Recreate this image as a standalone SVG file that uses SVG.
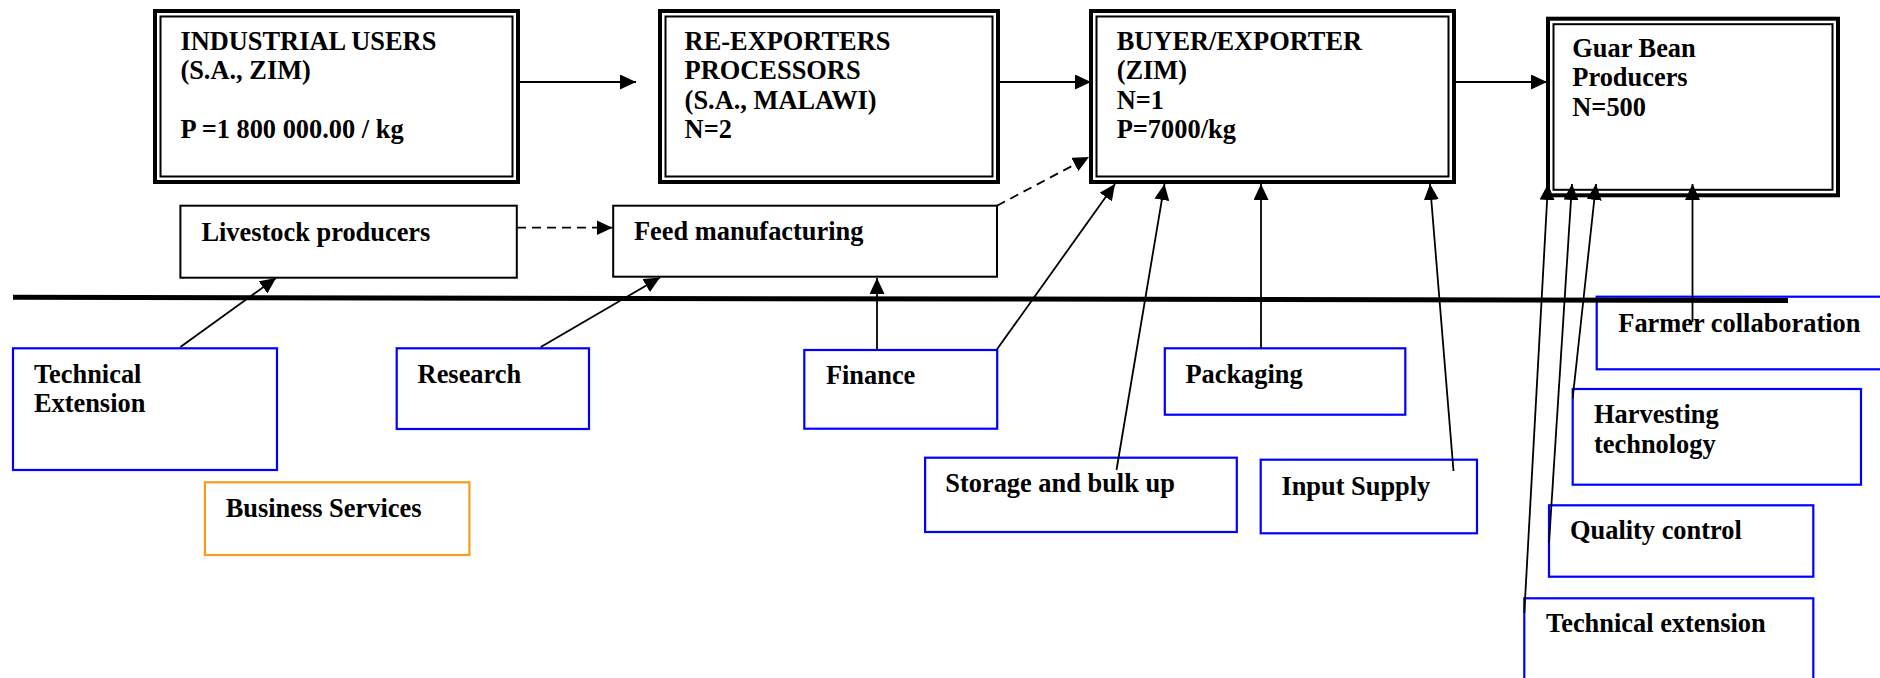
<svg xmlns="http://www.w3.org/2000/svg" width="1880" height="678" viewBox="0 0 1880 678">
<style>
text{font-family:"Liberation Serif","Times New Roman",serif;font-weight:bold;font-size:26.4px;fill:#000}
.outer{fill:none;stroke:#000;stroke-width:4}
.inner{fill:none;stroke:#000;stroke-width:2}
.plain{fill:none;stroke:#000;stroke-width:2}
.blue{fill:none;stroke:#0000ff;stroke-width:2.2}
.orange{fill:none;stroke:#f89c1c;stroke-width:2.2}
.con{fill:none;stroke:#000;stroke-width:1.8;marker-end:url(#ah)}
.dash{stroke-dasharray:9 6}
</style>
<defs>
<marker id="ah" markerUnits="userSpaceOnUse" markerWidth="16" markerHeight="15" refX="16" refY="7.5" orient="auto">
<path d="M0,0 L16,7.5 L0,15 z" fill="#000"/>
</marker>
</defs>
<rect width="1880" height="678" fill="#fff"/>

<g id="industrial-users">
<rect class="outer" x="155" y="11" width="363" height="171"/>
<rect class="inner" x="160.5" y="16.5" width="352" height="160"/>
<text x="180.4" y="50">INDUSTRIAL USERS</text>
<text x="180.4" y="79">(S.A., ZIM)</text>
<text x="180.4" y="138.3">P =1 800 000.00 / kg</text>
</g>
<g id="re-exporters">
<rect class="outer" x="660" y="11" width="338" height="171"/>
<rect class="inner" x="665.5" y="16.5" width="327" height="160"/>
<text x="684.6" y="50">RE-EXPORTERS</text>
<text x="684.6" y="79.4">PROCESSORS</text>
<text x="684.6" y="108.8">(S.A., MALAWI)</text>
<text x="684.6" y="138.2">N=2</text>
</g>
<g id="buyer-exporter">
<rect class="outer" x="1091" y="11" width="363" height="171"/>
<rect class="inner" x="1096.5" y="16.5" width="352" height="160"/>
<text x="1116.7" y="50">BUYER/EXPORTER</text>
<text x="1116.7" y="79.4">(ZIM)</text>
<text x="1116.7" y="108.8">N=1</text>
<text x="1116.7" y="138.2">P=7000/kg</text>
</g>
<g id="guar-bean-producers">
<rect class="outer" x="1548" y="18.7" width="290" height="176.6"/>
<rect class="inner" x="1553.5" y="24.2" width="279" height="165.6"/>
<text x="1572.3" y="56.7">Guar Bean</text>
<text x="1572.3" y="86.4">Producers</text>
<text x="1572.3" y="116.1">N=500</text>
</g>
<g id="livestock-producers">
<rect class="plain" x="180.4" y="205.7" width="336.4" height="72"/>
<text x="201.4" y="240.7">Livestock producers</text>
</g>
<g id="feed-manufacturing">
<rect class="plain" x="613.2" y="205.7" width="383.8" height="71"/>
<text x="634" y="240">Feed manufacturing</text>
</g>
<g id="technical-extension-left">
<rect class="blue" x="13" y="348.3" width="264" height="121.7"/>
<text x="33.9" y="382.7">Technical</text>
<text x="33.9" y="412.3">Extension</text>
</g>
<g id="research">
<rect class="blue" x="396.7" y="348.3" width="192.3" height="80.7"/>
<text x="417.6" y="383.3">Research</text>
</g>
<g id="business-services">
<rect class="orange" x="204.9" y="482.3" width="264.5" height="72.7"/>
<text x="225.7" y="517.3">Business Services</text>
</g>
<g id="finance">
<rect class="blue" x="804.3" y="350" width="192.9" height="78.7"/>
<text x="825.9" y="384.3">Finance</text>
</g>
<g id="storage">
<rect class="blue" x="925.1" y="457.7" width="311.7" height="74.3"/>
<text x="945.3" y="491.7">Storage and bulk up</text>
</g>
<g id="packaging">
<rect class="blue" x="1164.8" y="348.3" width="240.5" height="66.4"/>
<text x="1185.4" y="383.3">Packaging</text>
</g>
<g id="input-supply">
<rect class="blue" x="1260.7" y="459.7" width="216.3" height="73.6"/>
<text x="1281.4" y="495">Input Supply</text>
</g>
<g id="farmer-collaboration">
<rect class="blue" x="1596.7" y="296.7" width="300" height="72.6"/>
<text x="1618.3" y="331.7">Farmer collaboration</text>
</g>
<g id="harvesting-technology">
<rect class="blue" x="1572.7" y="389" width="288.3" height="95.7"/>
<text x="1594" y="423.3">Harvesting</text>
<text x="1594" y="452.7">technology</text>
</g>
<g id="quality-control">
<rect class="blue" x="1549" y="505.3" width="264.3" height="71.4"/>
<text x="1570" y="539.3">Quality control</text>
</g>
<g id="technical-extension-right">
<rect class="blue" x="1524.3" y="598.3" width="289" height="100"/>
<text x="1546" y="631.7">Technical extension</text>
</g>

<g id="divider">
<line x1="13" y1="297.3" x2="1788" y2="300.5" stroke="#000" stroke-width="5"/>
</g>

<g id="connectors">
<line class="con" x1="518" y1="82" x2="636" y2="82"/>
<line class="con" x1="998" y1="82" x2="1091" y2="82"/>
<line class="con" x1="1454" y1="82" x2="1547" y2="82"/>
<line class="con dash" x1="517" y1="227.7" x2="612.5" y2="227.7"/>
<line class="con dash" x1="997" y1="205.7" x2="1089" y2="157"/>
<line class="con" x1="180.4" y1="347" x2="276" y2="278"/>
<line class="con" x1="540.8" y1="347" x2="660" y2="277.5"/>
<line class="con" x1="877" y1="350" x2="877" y2="278"/>
<line class="con" x1="997" y1="349.3" x2="1115" y2="184"/>
<line class="con" x1="1116.5" y1="470" x2="1164.5" y2="184"/>
<line class="con" x1="1261" y1="348.3" x2="1261" y2="184"/>
<line class="con" x1="1453.5" y1="471" x2="1430" y2="184"/>
<line class="con" x1="1692.5" y1="322" x2="1692.5" y2="184"/>
<line class="con" x1="1572.7" y1="398" x2="1596" y2="184"/>
<line class="con" x1="1549" y1="543" x2="1572" y2="184"/>
<line class="con" x1="1524.3" y1="613" x2="1548" y2="184"/>
</g>
</svg>
